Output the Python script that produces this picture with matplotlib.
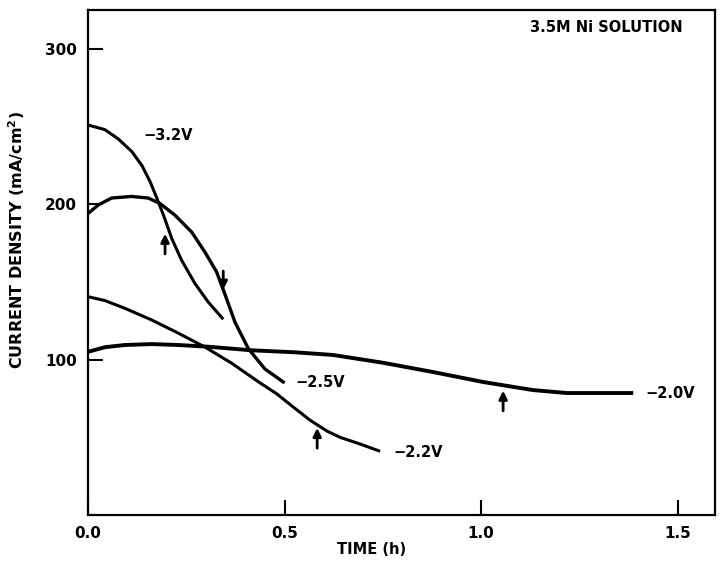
import matplotlib
matplotlib.use("Agg")
import matplotlib.pyplot as plt

plt.rcParams["font.family"] = ["DejaVu Sans"]

# current density (mA/cm^2) vs time (h)
t_32 = [0.0, 0.043, 0.077, 0.111, 0.137, 0.158, 0.175, 0.192, 0.213, 0.238,
        0.272, 0.306, 0.344]
j_32 = [251, 248, 242, 234, 225, 214.5, 204, 193, 178, 164, 149, 137, 126]

t_25 = [0.0, 0.026, 0.060, 0.111, 0.153, 0.183, 0.221, 0.264, 0.298, 0.327,
        0.349, 0.374, 0.408, 0.45, 0.50]
j_25 = [194, 199.5, 204, 205, 204, 200.5, 193, 182, 169, 156.5,
        141.6, 124, 107, 94, 85]

t_22 = [0.0, 0.043, 0.094, 0.162, 0.23, 0.298, 0.366, 0.433, 0.48, 0.522,
        0.565, 0.608, 0.641, 0.692, 0.743]
j_22 = [140.5, 138, 133, 125.5, 117, 108, 97.6, 85.8, 78, 69.5,
        61, 54, 50, 45.7, 41]

t_20 = [0.0, 0.043, 0.094, 0.162, 0.23, 0.306, 0.416, 0.527, 0.623, 0.75,
        0.878, 1.005, 1.132, 1.218, 1.387]
j_20 = [105, 108, 109.4, 110, 109.4, 108.3, 106, 104.7, 103, 98,
        92, 85.6, 80.4, 78.5, 78.5]

curve_labels = ["\u22123.2V", "\u22122.5V", "\u22122.2V", "\u22122.0V"]
label_pos = [(0.14, 244), (0.527, 85), (0.776, 40.5), (1.417, 78.5)]

# arrows: (x, tail y, tip y)
arrows = [(0.196, 168, 181), (0.344, 157, 145), (0.583, 43, 56), (1.056, 67, 80)]

fig = plt.figure(figsize=(7.24, 5.68), dpi=100)
ax = fig.add_axes([88 / 724, 53 / 568, 627 / 724, 505 / 568])

ax.plot(t_32, j_32, color="black", lw=2.2, solid_capstyle="butt")
ax.plot(t_25, j_25, color="black", lw=2.4, solid_capstyle="butt")
ax.plot(t_22, j_22, color="black", lw=2.2, solid_capstyle="butt")
ax.plot(t_20, j_20, color="black", lw=2.8, solid_capstyle="butt")

for (x, y), lab in zip(label_pos, curve_labels):
    ax.text(x, y, lab, fontsize=10.5, fontweight="bold", ha="left", va="center")

for x, y0, y1 in arrows:
    ax.annotate("", xy=(x, y1), xytext=(x, y0),
                arrowprops=dict(arrowstyle="-|>", color="black", lw=2.0,
                                mutation_scale=12, shrinkA=0, shrinkB=0))

ax.text(0.949, 0.98, "3.5M Ni SOLUTION", transform=ax.transAxes,
        fontsize=10.5, fontweight="bold", ha="right", va="top")

ax.set_xlim(0, 1.595)
ax.set_ylim(0, 325)
ax.set_xticks([0.0, 0.5, 1.0, 1.5])
ax.set_xticklabels(["0.0", "0.5", "1.0", "1.5"])
ax.set_yticks([100, 200, 300])
ax.tick_params(direction="in", length=11, width=1.5, labelsize=11, pad=8)
for lab in ax.get_xticklabels() + ax.get_yticklabels():
    lab.set_fontweight("bold")
for sp in ax.spines.values():
    sp.set_linewidth(1.6)

ax.set_xlabel("TIME (h)", fontsize=10.5, fontweight="bold")
ax.set_ylabel("CURRENT DENSITY (mA/cm$^\\mathbf{2}$)", fontsize=11.5, fontweight="bold")
ax.xaxis.set_label_coords(0.453, -0.053)
ax.yaxis.set_label_coords(-0.097, 0.545)

fig.savefig("out.png", dpi=100)
